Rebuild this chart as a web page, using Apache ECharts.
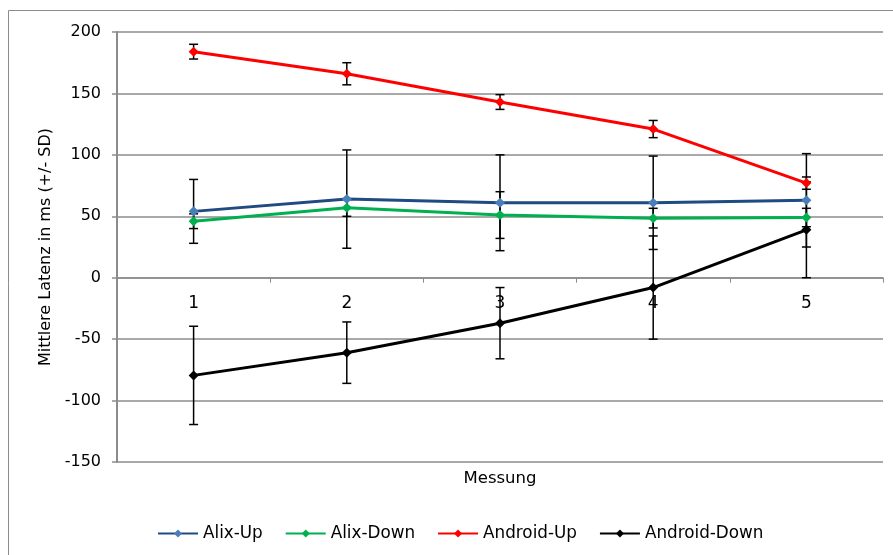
<!DOCTYPE html>
<html>
<head>
<meta charset="utf-8">
<script src="https://cdn.jsdelivr.net/npm/echarts@6/dist/echarts.min.js"></script>
<style>
html,body{margin:0;padding:0;background:#fff;}
#c{width:893px;height:555px;}
</style>
</head>
<body>
<div id="c"></div>
<script>
const categories = ['1', '2', '3', '4', '5'];
const alixUp = [54, 64, 61, 61, 63];
const alixUpErr = [26, 40, 39, 38, 38];
const alixDown = [46, 57, 51, 48.5, 49];
const alixDownErr = [6, 7, 19, 8, 7.5];
const androidUp = [184, 166, 143, 121, 77];
const androidUpErr = [6, 9, 6, 7, 5];
const androidDown = [-79.5, -61, -37, -8, 39];
const androidDownErr = [40, 25, 29, 42, 39];
const yTicks = { min: -150, max: 200, interval: 50 };

const FONT = 'DejaVu Sans';

function errData(vals, errs) {
  return vals.map((v, i) => [i, v - errs[i], v + errs[i]]);
}
function errSeries(name, vals, errs) {
  return {
    type: 'custom',
    name: name + '-err',
    z: 1,
    silent: true,
    legendHoverLink: false,
    data: errData(vals, errs),
    renderItem: function (params, api) {
      const x = api.value(0);
      const lo = api.coord([x, api.value(1)]);
      const hi = api.coord([x, api.value(2)]);
      const w = 4.5;
      const st = { stroke: '#000', lineWidth: 1.5 };
      return {
        type: 'group',
        children: [
          { type: 'line', shape: { x1: lo[0], y1: lo[1], x2: hi[0], y2: hi[1] }, style: st },
          { type: 'line', shape: { x1: lo[0] - w, y1: lo[1], x2: lo[0] + w, y2: lo[1] }, style: st },
          { type: 'line', shape: { x1: hi[0] - w, y1: hi[1], x2: hi[0] + w, y2: hi[1] }, style: st }
        ]
      };
    }
  };
}
function lineSeries(name, vals, lineColor, markerColor) {
  return {
    type: 'line',
    name: name,
    data: vals,
    z: 3,
    symbol: 'diamond',
    symbolSize: 10,
    showAllSymbol: true,
    lineStyle: { color: lineColor, width: 3 },
    itemStyle: { color: markerColor, borderColor: markerColor, borderWidth: 0 },
    emphasis: { disabled: true },
    animation: false
  };
}

const chart = echarts.init(document.getElementById('c'), null, { renderer: 'canvas' });
chart.setOption({
  animation: false,
  backgroundColor: '#fff',
  textStyle: { fontFamily: FONT },
  graphic: [{
    type: 'rect',
    shape: { x: 8.5, y: 10.5, width: 900, height: 560 },
    style: { fill: 'none', stroke: '#8c8c8c', lineWidth: 1 },
    silent: true, z: 0
  }],
  grid: { left: 117, right: 10, top: 32, bottom: 93, containLabel: false, outerBoundsMode: 'none' },
  legend: {
    left: 152,
    top: 520,
    itemWidth: 40,
    itemHeight: 10,
    itemGap: 22,
    textStyle: { fontFamily: FONT, fontSize: 16.8, color: '#000' },
    data: ['Alix-Up', 'Alix-Down', 'Android-Up', 'Android-Down']
  },
  xAxis: {
    type: 'category',
    data: categories,
    boundaryGap: true,
    name: 'Messung',
    nameLocation: 'middle',
    nameGap: 8,
    nameTextStyle: { fontFamily: FONT, fontSize: 16.5, color: '#000' },
    axisLine: { onZero: true, lineStyle: { color: '#8c8c8c', width: 1.5 } },
    axisTick: { show: true, length: 5, alignWithLabel: false, lineStyle: { color: '#8c8c8c', width: 1 } },
    axisLabel: { margin: -167, fontFamily: FONT, fontSize: 17, color: '#000' },
    splitLine: { show: false }
  },
  yAxis: {
    type: 'value',
    min: yTicks.min,
    max: yTicks.max,
    interval: yTicks.interval,
    name: 'Mittlere Latenz in ms (+/- SD)',
    nameLocation: 'middle',
    nameGap: 63,
    nameRotate: 90,
    nameTextStyle: { fontFamily: FONT, fontSize: 16, color: '#000' },
    axisLine: { show: true, lineStyle: { color: '#8c8c8c', width: 2 } },
    axisTick: { show: true, length: 5, lineStyle: { color: '#8c8c8c', width: 1.5 } },
    axisLabel: { margin: 16, fontFamily: FONT, fontSize: 16, color: '#000' },
    splitLine: { show: true, lineStyle: { color: '#8c8c8c', width: 1.5 } }
  },
  series: [
    errSeries('Alix-Up', alixUp, alixUpErr),
    errSeries('Alix-Down', alixDown, alixDownErr),
    errSeries('Android-Up', androidUp, androidUpErr),
    errSeries('Android-Down', androidDown, androidDownErr),
    lineSeries('Alix-Up', alixUp, '#1f4a82', '#4a7ebb'),
    lineSeries('Alix-Down', alixDown, '#00b050', '#00b050'),
    lineSeries('Android-Up', androidUp, '#ff0000', '#ff0000'),
    lineSeries('Android-Down', androidDown, '#000000', '#000000')
  ]
});
</script>
</body>
</html>
